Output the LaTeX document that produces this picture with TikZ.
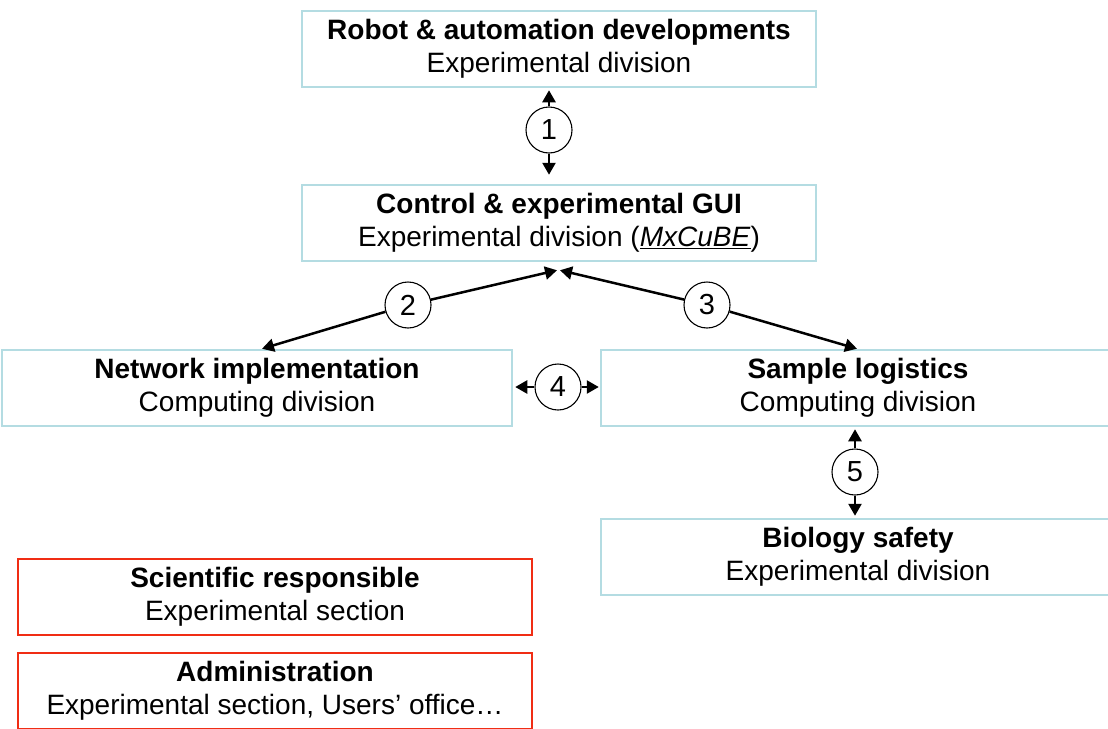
\documentclass[tikz,border=0pt]{standalone}
\usepackage{fontspec}
\setmainfont{Liberation Sans}
\usetikzlibrary{arrows.meta, calc}
\definecolor{paleblue}{RGB}{180, 220, 226}
\definecolor{alertred}{RGB}{240, 45, 20}

\begin{document}
\begin{tikzpicture}[x=1pt, y=-1pt,
    box/.style={rectangle, draw=paleblue, line width=2.5pt, fill=white, minimum width=514pt, minimum height=76pt, inner sep=0pt, align=center, font=\fontsize{28}{33}\selectfont},
    redbox/.style={box, draw=alertred},
    link/.style={circle, draw, line width=1.1pt, fill=white, minimum size=46pt, inner sep=0pt, font=\fontsize{29}{29}\selectfont},
    arrow/.style={-{Triangle[length=12pt, width=13pt]}, line width=2.5pt}
]
    \clip (0,0) rectangle (1108,728);

    % Divisions
    \node[box] (robot) at (559,49) {\textbf{Robot \& automation developments}\\Experimental division};
    \node[box] (ctrl) at (559,223) {\textbf{Control \& experimental GUI}\\Experimental division (\underline{\textit{MxCuBE}})};
    \node[box, minimum width=510pt] (network) at (257,388) {\textbf{Network implementation}\\Computing division};
    \node[box] (sample) at (858,388) {\textbf{Sample logistics}\\Computing division};
    \node[box] (safety) at (858,557) {\textbf{Biology safety}\\Experimental division};

    % Sections
    \node[redbox] (scientific) at (275,597) {\textbf{Scientific responsible}\\Experimental section};
    \node[redbox] (admin) at (275,691) {\textbf{Administration}\\Experimental section, Users’ office…};

    % Numbered links
    \node[link] (link1) at (549,130) {1};
    \node[link] (link2) at (408,305) {2};
    \node[link] (link3) at (707,305) {3};
    \node[link] (link4) at (558,387) {4};
    \node[link] (link5) at (855,472) {5};

    \draw[arrow] (link1) -- ($(robot.south)+(-10,2)$);
    \draw[arrow] (link1) -- ($(ctrl.north)+(-10,-9)$);
    \draw[arrow] (link2) -- ($(ctrl.south)+(-2,8)$);
    \draw[arrow] (link2) -- ($(network.north)+(5,0)$);
    \draw[arrow] (link3) -- ($(ctrl.south)+(1,8)$);
    \draw[arrow] (link3) -- ($(sample.north)+(-1,0)$);
    \draw[arrow] (link4) -- ($(network.east)+(2,-1)$);
    \draw[arrow] (link4) -- ($(sample.west)+(-1,-1)$);
    \draw[arrow] (link5) -- ($(sample.south)+(-3,2)$);
    \draw[arrow] (link5) -- ($(safety.north)+(-3,-2)$);
\end{tikzpicture}
\end{document}
